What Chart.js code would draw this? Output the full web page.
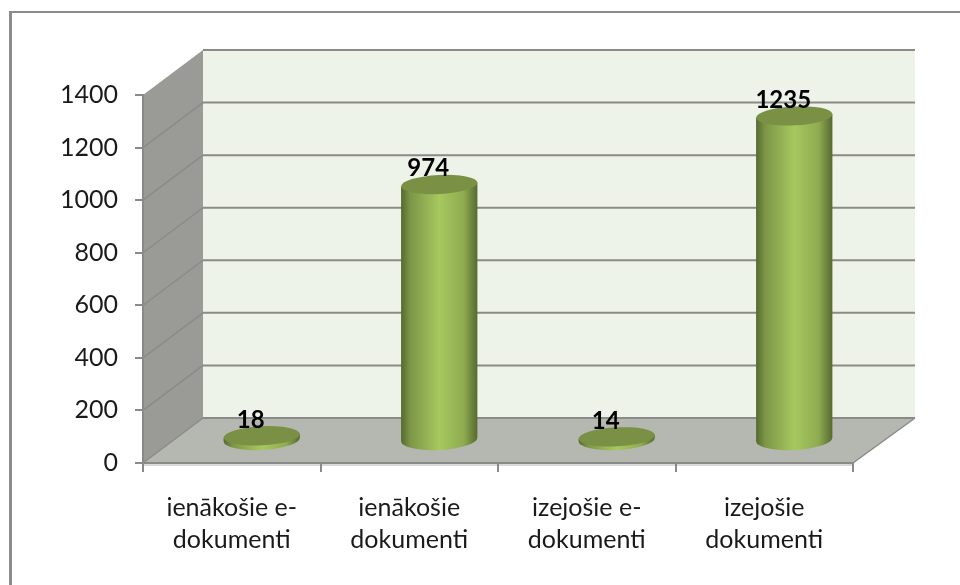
<!DOCTYPE html>
<html lang="lv">
<head>
    <meta charset="UTF-8">
    <title>Dokumenti</title>
    <script src="https://cdn.jsdelivr.net/npm/chart.js"></script>
    <style>
        html, body { margin: 0; padding: 0; background: #fff; overflow: hidden; }
        #wrap { width: 960px; height: 585px; position: relative; }
    </style>
</head>
<body>
    <div id="wrap"><canvas id="chart" width="960" height="585"></canvas></div>
    <script>
        const categories = [
            ['ienākošie e-', 'dokumenti'],
            ['ienākošie', 'dokumenti'],
            ['izejošie e-', 'dokumenti'],
            ['izejošie', 'dokumenti']
        ];
        const values = [18, 974, 14, 1235];
        const yMax = 1400;
        const yStep = 200;

        // depth of the fake 3D box
        const depthX = 60;
        const depthY = -45;
        const tilt = -0.05;
        const capRy = 9.5;

        function cylinderGradient(ctx, left, right) {
            const g = ctx.createLinearGradient(left, 0, right, 0);
            g.addColorStop(0, '#55692f');
            g.addColorStop(0.12, '#7d9647');
            g.addColorStop(0.5, '#a6c85f');
            g.addColorStop(0.82, '#8fab50');
            g.addColorStop(1, '#566a30');
            return g;
        }

        // bars are drawn as cylinders standing half way into the box
        class CylinderController extends Chart.BarController {
            draw() {
                const ctx = this.chart.ctx;
                this._cachedMeta.data.forEach(bar => {
                    const cx = bar.x + depthX / 2;
                    const top = bar.y + depthY / 2;
                    const base = bar.base + depthY / 2;
                    const rx = bar.width / 2;
                    const dy = Math.sin(tilt) * rx;

                    ctx.save();
                    ctx.fillStyle = cylinderGradient(ctx, cx - rx, cx + rx);
                    ctx.beginPath();
                    ctx.moveTo(cx - rx, top - dy);
                    ctx.lineTo(cx - rx, base - dy);
                    ctx.ellipse(cx, base, rx, capRy + 1, tilt, Math.PI, 0, true);
                    ctx.lineTo(cx + rx, top + dy);
                    ctx.closePath();
                    ctx.fill();

                    ctx.fillStyle = '#7a9145';
                    ctx.beginPath();
                    ctx.ellipse(cx, top, rx, capRy, tilt, 0, Math.PI * 2);
                    ctx.fill();
                    ctx.restore();
                });
            }
        }
        CylinderController.id = 'cylinder';
        CylinderController.defaults = Chart.BarController.defaults;
        CylinderController.overrides = Chart.BarController.overrides;
        Chart.register(CylinderController);

        const boxPlugin = {
            id: 'box',
            beforeDraw(chart) {
                const ctx = chart.ctx;
                const y = chart.scales.y;
                const a = chart.chartArea;
                const backL = a.left + depthX;
                const backR = a.right + depthX + 2;
                const backT = a.top + depthY;
                const backB = a.bottom + depthY;

                ctx.save();
                // outer frame, only left and top survive in the picture
                ctx.fillStyle = '#8c8c8c';
                ctx.fillRect(9, 11, 3, 574);
                ctx.fillRect(9, 11, 951, 2);

                // back wall
                ctx.fillStyle = '#eef3e9';
                ctx.fillRect(backL, backT, backR - backL, backB - backT);

                // side wall
                ctx.fillStyle = '#9a9b96';
                ctx.beginPath();
                ctx.moveTo(a.left, a.top);
                ctx.lineTo(backL, backT);
                ctx.lineTo(backL, backB);
                ctx.lineTo(a.left, a.bottom);
                ctx.closePath();
                ctx.fill();

                // floor
                ctx.fillStyle = '#b5b7b1';
                ctx.beginPath();
                ctx.moveTo(a.left, a.bottom);
                ctx.lineTo(a.right, a.bottom);
                ctx.lineTo(backR, backB);
                ctx.lineTo(backL, backB);
                ctx.closePath();
                ctx.fill();

                ctx.strokeStyle = '#8a8a88';
                ctx.lineWidth = 1.5;
                ctx.beginPath();
                ctx.moveTo(a.right, a.bottom);
                ctx.lineTo(backR, backB);
                ctx.stroke();

                // grid lines along both walls
                y.ticks.forEach(t => {
                    const py = y.getPixelForValue(t.value);
                    ctx.lineWidth = 2;
                    ctx.strokeStyle = '#8a8a88';
                    ctx.beginPath();
                    ctx.moveTo(backL, py + depthY);
                    ctx.lineTo(backR, py + depthY);
                    ctx.stroke();
                    ctx.lineWidth = 1.4;
                    if (t.value < yMax) {
                        ctx.beginPath();
                        ctx.moveTo(a.left, py);
                        ctx.lineTo(backL, py + depthY);
                        ctx.stroke();
                    }
                });

                // light rim under the floor
                ctx.fillStyle = '#d9d9d7';
                ctx.fillRect(a.left, a.bottom + 1, a.right - a.left, 2);
                ctx.restore();
            },
            afterDatasetsDraw(chart) {
                const ctx = chart.ctx;
                const meta = chart.getDatasetMeta(0);
                ctx.save();
                ctx.fillStyle = '#000';
                ctx.font = 'bold 24px Lato';
                ctx.textAlign = 'center';
                ctx.textBaseline = 'alphabetic';
                meta.data.forEach((bar, i) => {
                    ctx.fillText(values[i], bar.x + depthX / 2 - 11, bar.y + depthY / 2 - 8);
                });
                ctx.restore();
            }
        };

        new Chart(document.getElementById('chart'), {
            type: 'cylinder',
            data: {
                labels: categories,
                datasets: [{
                    data: values,
                    backgroundColor: '#a6c85f',
                    barPercentage: 0.43,
                    categoryPercentage: 1
                }]
            },
            options: {
                responsive: false,
                animation: false,
                layout: { padding: { top: 95, right: 107, left: 0, bottom: 0 } },
                plugins: { legend: { display: false }, tooltip: { enabled: false } },
                scales: {
                    x: {
                        offset: true,
                        afterFit(scale) { scale.height = 122; },
                        grid: { offset: true, drawOnChartArea: false, color: '#8a8a88', lineWidth: 2, tickLength: 9 },
                        border: { color: '#8a8a88', width: 2 },
                        ticks: { color: '#1a1a1a', padding: 20, maxRotation: 0, autoSkip: false, font: { family: 'Lato', size: 25, lineHeight: 1.28 } }
                    },
                    y: {
                        min: 0,
                        max: yMax,
                        afterFit(scale) { scale.width = 143; },
                        grid: { drawOnChartArea: false, color: '#8a8a88', lineWidth: 2, tickLength: 8 },
                        border: { color: '#8a8a88', width: 2 },
                        ticks: { stepSize: yStep, color: '#1a1a1a', padding: 17, font: { family: 'Lato', size: 25 }, callback: v => String(v) }
                    }
                }
            },
            plugins: [boxPlugin]
        });
    </script>
</body>
</html>
